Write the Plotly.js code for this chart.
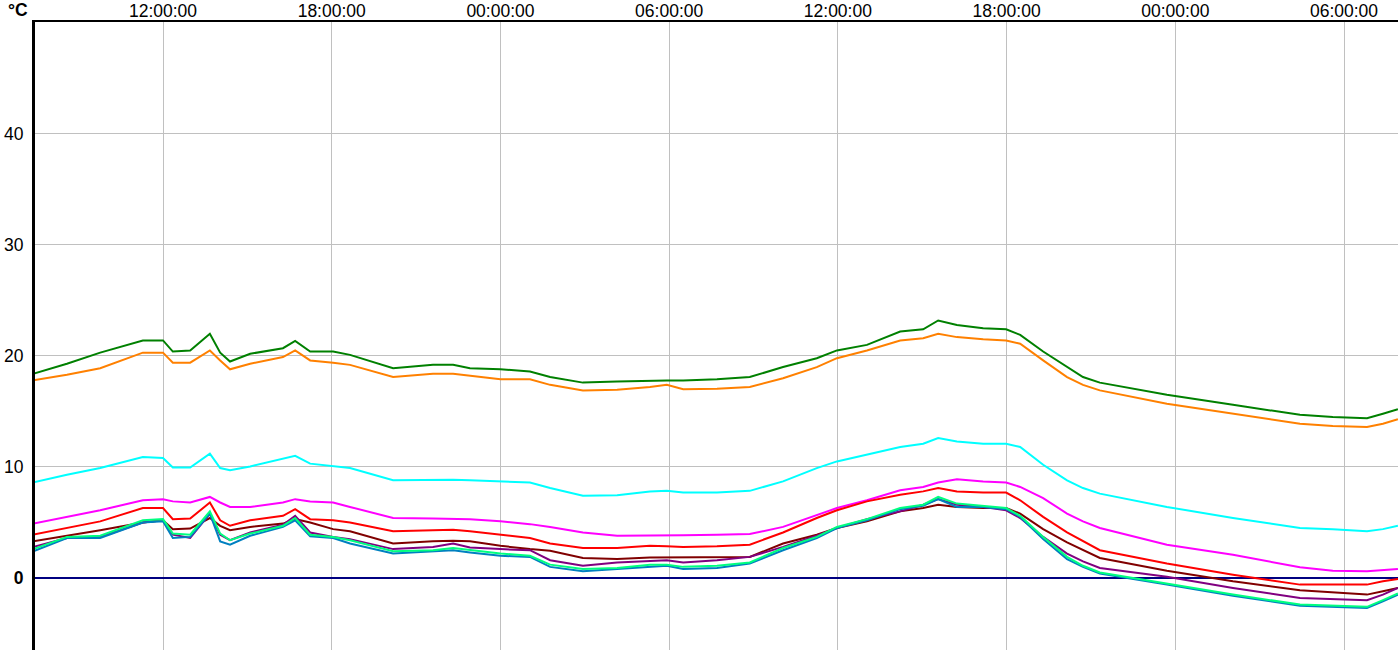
<!DOCTYPE html>
<html>
<head>
<meta charset="utf-8">
<script src="https://cdn.plot.ly/plotly-3.0.1.min.js"></script>
<style>html,body{margin:0;padding:0;background:#fff;}#chart{width:1398px;height:650px;}</style>
</head>
<body>
<div id="chart"></div>
<script>
const times = [
 '2024-01-01 07:23','2024-01-01 08:35','2024-01-01 09:46','2024-01-01 11:17','2024-01-01 12:00','2024-01-01 12:21',
 '2024-01-01 12:58','2024-01-01 13:40','2024-01-01 14:02','2024-01-01 14:23','2024-01-01 15:06','2024-01-01 16:16',
 '2024-01-01 16:42','2024-01-01 17:14','2024-01-01 18:03','2024-01-01 18:39','2024-01-01 20:11','2024-01-01 21:36',
 '2024-01-01 22:19','2024-01-01 22:55','2024-01-02 00:00','2024-01-02 01:03','2024-01-02 01:46','2024-01-02 02:56',
 '2024-01-02 04:09','2024-01-02 05:19','2024-01-02 05:55','2024-01-02 06:30','2024-01-02 07:42','2024-01-02 08:52',
 '2024-01-02 10:03','2024-01-02 11:15','2024-01-02 11:58','2024-01-02 13:02','2024-01-02 14:13','2024-01-02 15:02',
 '2024-01-02 15:34','2024-01-02 16:14','2024-01-02 17:10','2024-01-02 17:59','2024-01-02 18:29','2024-01-02 19:18',
 '2024-01-02 20:09','2024-01-02 20:43','2024-01-02 21:19','2024-01-02 23:42','2024-01-03 02:03','2024-01-03 04:26',
 '2024-01-03 05:36','2024-01-03 06:49','2024-01-03 07:23','2024-01-03 07:55'
];

const green = [18.4,19.3,20.3,21.4,21.4,20.4,20.5,22.0,20.3,19.5,20.2,20.7,21.35,20.4,20.4,20.1,18.9,19.2,19.2,18.9,18.8,18.6,18.1,17.6,17.7,17.8,17.8,17.8,17.9,18.1,19.0,19.8,20.5,21.0,22.2,22.4,23.2,22.8,22.5,22.4,21.9,20.4,19.0,18.1,17.6,16.5,15.6,14.7,14.5,14.4,14.8,15.2];
const orange = [17.8,18.3,18.9,20.3,20.3,19.4,19.4,20.5,19.6,18.8,19.3,19.9,20.5,19.6,19.4,19.2,18.1,18.4,18.4,18.2,17.9,17.9,17.4,16.9,16.95,17.2,17.4,17.0,17.05,17.2,18.0,19.0,19.8,20.5,21.4,21.6,22.0,21.7,21.5,21.4,21.1,19.6,18.1,17.4,16.9,15.7,14.8,13.9,13.7,13.6,13.9,14.3];
const cyan = [8.6,9.3,9.9,10.9,10.8,9.95,9.95,11.2,9.9,9.7,10.05,10.7,11.0,10.3,10.1,9.9,8.8,8.85,8.85,8.8,8.7,8.6,8.1,7.4,7.45,7.8,7.85,7.7,7.7,7.85,8.7,9.9,10.5,11.1,11.8,12.1,12.6,12.3,12.1,12.1,11.8,10.2,8.8,8.1,7.6,6.4,5.4,4.5,4.4,4.2,4.4,4.7];
const magenta = [4.9,5.5,6.1,7.0,7.1,6.9,6.8,7.3,6.8,6.4,6.4,6.8,7.1,6.9,6.8,6.4,5.4,5.35,5.3,5.3,5.1,4.85,4.6,4.1,3.8,3.8,3.8,3.85,3.9,3.96,4.6,5.7,6.3,7.0,7.9,8.2,8.6,8.9,8.7,8.6,8.2,7.2,5.8,5.1,4.5,3.0,2.1,0.96,0.66,0.6,0.7,0.8];
const red = [3.9,4.5,5.1,6.3,6.3,5.3,5.35,6.8,5.2,4.7,5.2,5.6,6.2,5.3,5.2,5.0,4.2,4.3,4.35,4.2,3.9,3.6,3.1,2.7,2.7,2.9,2.85,2.8,2.85,3.0,4.1,5.4,6.1,6.9,7.5,7.8,8.1,7.8,7.7,7.7,7.0,5.5,4.1,3.3,2.5,1.3,0.3,-0.6,-0.6,-0.6,-0.3,-0.1];
const maroon = [3.3,3.8,4.3,5.0,5.2,4.4,4.45,5.4,4.7,4.3,4.6,4.9,5.3,5.0,4.4,4.2,3.1,3.3,3.35,3.3,2.9,2.6,2.45,1.8,1.7,1.85,1.85,1.85,1.85,1.9,3.1,3.9,4.5,5.1,6.0,6.3,6.6,6.4,6.3,6.3,5.8,4.4,3.2,2.5,1.8,0.66,-0.3,-1.1,-1.3,-1.5,-1.2,-0.9];
const purple = [2.8,3.6,3.7,5.0,5.2,3.9,3.6,5.8,3.9,3.4,4.1,4.8,5.6,4.1,3.7,3.5,2.6,2.8,3.1,2.75,2.6,2.5,1.6,1.1,1.4,1.5,1.6,1.4,1.6,1.9,2.8,3.8,4.5,5.3,6.0,6.6,7.1,6.6,6.4,6.1,5.4,3.7,2.2,1.5,0.9,0.1,-0.9,-1.8,-1.9,-2.0,-1.5,-0.9];
const blue = [2.4,3.6,3.6,5.0,5.1,3.6,3.7,5.8,3.3,3.0,3.8,4.6,5.2,3.75,3.6,3.1,2.2,2.4,2.5,2.3,2.0,1.9,1.0,0.6,0.8,1.0,1.1,0.8,0.9,1.3,2.5,3.6,4.5,5.2,6.2,6.5,7.1,6.4,6.4,6.2,5.5,3.5,1.7,1.0,0.4,-0.6,-1.6,-2.5,-2.6,-2.7,-2.1,-1.5];
const spring = [2.6,3.7,3.8,5.2,5.3,4.0,3.9,6.0,4.0,3.4,4.0,4.7,5.4,3.9,3.7,3.4,2.4,2.5,2.7,2.5,2.2,2.0,1.2,0.8,0.9,1.2,1.2,1.0,1.1,1.4,2.7,3.7,4.6,5.3,6.3,6.6,7.3,6.7,6.5,6.3,5.6,3.7,1.9,1.1,0.5,-0.5,-1.5,-2.4,-2.5,-2.6,-2.0,-1.4];

const seriesNames = ['green','orange','cyan','magenta','red','maroon','purple','blue','spring'];
const seriesValues = [green, orange, cyan, magenta, red, maroon, purple, blue, spring];
const seriesColors = ['#008000','#FF8000','#00FFFF','#FF00FF','#FF0000','#800000','#800080','#0080C0','#00FF80'];

const yTickVals = [0, 10, 20, 30, 40];
const yTickText = ['<b>0</b>', '10', '20', '30', '40'];

const traces = seriesValues.map((v, i) => ({
  x: times, y: v, name: seriesNames[i], type: 'scatter', mode: 'lines',
  line: {color: seriesColors[i], width: 2, shape: 'linear'}, hoverinfo: 'skip'
}));

const FONT = 'Liberation Sans, Arial, sans-serif';

const layout = {
  width: 1398, height: 650,
  margin: {l: 35, r: 0, t: 22, b: 0, pad: 0},
  paper_bgcolor: '#ffffff', plot_bgcolor: '#ffffff',
  showlegend: false,
  font: {family: FONT, size: 17.5, color: '#000'},
  xaxis: {
    type: 'date', side: 'top',
    range: ['2024-01-01 07:26:53', '2024-01-03 07:55:10'],
    tick0: '2024-01-01 00:00', dtick: 6 * 3600 * 1000,
    tickformat: '%H:%M:%S', ticks: '', ticklabelstandoff: -4,
    showgrid: true, gridcolor: '#c0c0c0', gridwidth: 1,
    showline: true, linecolor: '#000', linewidth: 2, mirror: false,
    zeroline: false, tickfont: {family: FONT, size: 17.5, color: '#000'}
  },
  yaxis: {
    range: [-6.49, 50.09], tickvals: yTickVals, ticktext: yTickText,
    ticks: '', ticklabelstandoff: 5,
    showgrid: true, gridcolor: '#c0c0c0', gridwidth: 1,
    showline: true, linecolor: '#000', linewidth: 3,
    zeroline: true, zerolinecolor: '#000080', zerolinewidth: 2,
    tickfont: {family: FONT, size: 17.5, color: '#000'}
  },
  annotations: [{
    xref: 'paper', yref: 'paper', x: 0, y: 1, xanchor: 'right', yanchor: 'middle',
    xshift: -5, yshift: 12,
    text: '<b>°C</b>', showarrow: false, font: {family: FONT, size: 17.5, color: '#000'}
  }]
};

Plotly.newPlot('chart', traces, layout, {staticPlot: true, displayModeBar: false});
</script>
</body>
</html>
